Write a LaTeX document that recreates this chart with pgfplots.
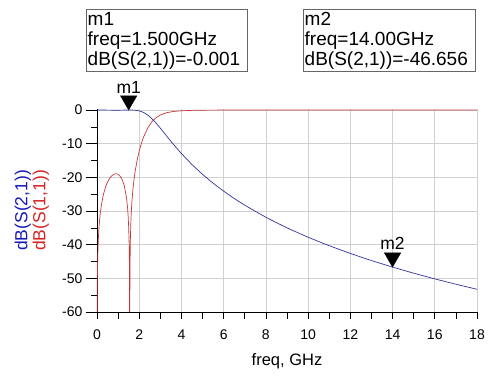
\documentclass[border=0pt]{standalone}
\usepackage{fontspec}
\setmainfont{Liberation Sans}
\usepackage{pgfplots}
\pgfplotsset{compat=1.18}
\definecolor{sblue}{RGB}{50,50,160}
\definecolor{sred}{RGB}{200,55,55}
\definecolor{lblue}{RGB}{25,25,185}
\definecolor{lred}{RGB}{215,35,35}
\newcommand{\ylfont}{\fontsize{17.5}{18}\selectfont}
\begin{document}
\begin{tikzpicture}[x=1pt,y=1pt]
\useasboundingbox (0,0) rectangle (500,382);
\begin{axis}[
  at={(97pt,70pt)}, anchor=south west,
  scale only axis, width=380pt, height=203pt,
  xmin=0, xmax=18, ymin=-60, ymax=0.3,
  axis x line=bottom, axis y line=left,
  axis line style={-, black, line width=0.7pt},
  xtick={0,2,...,18}, ytick={-60,-50,...,0},
  minor x tick num=1, minor y tick num=1,
  tick align=outside,
  major tick length=11pt, minor tick length=6pt,
  x tick style={/pgfplots/major tick length=7pt, /pgfplots/minor tick length=7pt},
  tick style={black, line width=0.6pt},
  grid=major, major grid style={black!18, line width=0.6pt},
  /pgf/number format/assume math mode=true,
  ticklabel style={font=\fontsize{14}{16}\selectfont},
  xticklabel style={yshift=-3pt},
  xlabel={freq, GHz},
  xlabel style={at={(axis description cs:0.5,-0.262)}, anchor=base, font=\fontsize{16.5}{18}\selectfont},
  ylabel={\ylfont\textcolor{lblue}{dB(S(2,1))}\\\ylfont\textcolor{lred}{dB(S(1,1))}},
  ylabel style={at={(axis description cs:-0.126,0.5)}, anchor=south, align=center, inner sep=0pt, font=\ylfont},
  clip mode=individual,
]
% S(1,1)
\addplot[sred, line width=0.7pt] coordinates {
(0,-80) (0.01,-54.4) (0.02,-48.37) (0.03,-44.85) (0.05,-40.42) (0.07,-37.50)
(0.1,-34.43) (0.15,-30.95) (0.2,-28.52) (0.3,-25.19) (0.4,-22.97) (0.5,-21.40)
(0.6,-20.28) (0.7,-19.52) (0.8,-19.07) (0.9,-18.93) (1.0,-19.12) (1.1,-19.69)
(1.2,-20.78) (1.3,-22.69) (1.4,-26.16) (1.45,-29.22) (1.48,-32.04) (1.5,-34.78)
(1.52,-39.03) (1.54,-48.29) (1.55,-80) (1.56,-48.44) (1.58,-38.63) (1.6,-34.01)
(1.62,-30.91) (1.65,-27.57) (1.7,-23.66) (1.75,-20.80) (1.8,-18.51) (1.9,-14.94)
(2.0,-12.19) (2.1,-9.97) (2.2,-8.14) (2.4,-5.37) (2.6,-3.50) (2.8,-2.27)
(3.0,-1.48) (3.3,-0.80) (3.6,-0.45) (4.0,-0.23) (4.5,-0.11) (5,-0.05)
(6,-0.02) (8,0) (18,0)
};
% S(2,1)
\addplot[sblue, line width=0.7pt, smooth, tension=0.4] coordinates {
(0,0) (0.5,-0.032) (0.9,-0.056) (1.2,-0.036) (1.5,-0.001) (1.7,-0.019)
(1.8,-0.062) (1.9,-0.142) (2.0,-0.271) (2.1,-0.461) (2.2,-0.723) (2.4,-1.489)
(2.6,-2.574) (2.8,-3.911) (3.0,-5.402) (3.3,-7.741) (3.6,-10.045) (4.0,-12.932)
(4.5,-16.196) (5,-19.109) (5.5,-21.728) (6,-24.101) (6.5,-26.272) (7,-28.271)
(8,-31.85) (9,-34.99) (10,-37.78) (11,-40.30) (12,-42.60) (13,-44.71)
(14,-46.656) (15,-48.47) (16,-50.16) (17,-51.75) (18,-53.25)
};
% markers
\addplot[only marks, mark=triangle*, mark size=9.5pt,
  mark options={black, fill=black, yshift=9.5pt, rotate=180}]
  coordinates {(1.5,-0.001) (14,-46.656)};
\node[anchor=base, inner sep=0pt, font=\fontsize{17.5}{18}\selectfont] at (axis cs:1.5,-0.001) [yshift=17pt] {m1};
\node[anchor=base, inner sep=0pt, font=\fontsize{17.5}{18}\selectfont] at (axis cs:14,-46.656) [yshift=18pt] {m2};
\end{axis}
\draw[black!60, line width=0.8pt] (86,311) rectangle (247,373);
\node[anchor=north west, inner sep=0pt, align=left, font=\fontsize{19}{20}\selectfont] at (87.5,370) {m1\\freq=1.500GHz\\dB(S(2,1))=-0.001};
\draw[black!60, line width=0.8pt] (303,311) rectangle (475,373);
\node[anchor=north west, inner sep=0pt, align=left, font=\fontsize{19}{20}\selectfont] at (304.5,370) {m2\\freq=14.00GHz\\dB(S(2,1))=-46.656};
\end{tikzpicture}
\end{document}
